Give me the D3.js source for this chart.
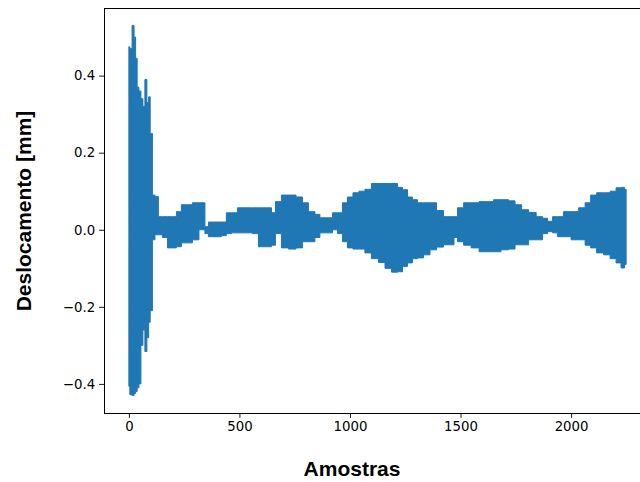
<!DOCTYPE html>
<html>
<head>
<meta charset="utf-8">
<script src="https://cdn.jsdelivr.net/npm/d3@7"></script>
<style>
  html, body { margin: 0; padding: 0; background: #fff; }
  svg { display: block; }
</style>
</head>
<body>
<svg id="chart" width="640" height="482"></svg>
<script>
// Envelope of the displacement signal (sample index, max and min)
const samples = [0, 9, 20, 27, 34, 41, 50, 59, 68, 77, 86, 93, 100, 104,
  109, 127, 140, 163, 186, 208, 222, 253, 276, 299, 335, 353, 367, 403, 434, 448, 480, 502, 548, 570, 602, 638,
  652, 674, 706, 738, 774, 796, 828, 855, 873, 910, 932, 955, 977, 1000, 1027, 1054, 1081, 1113, 1145, 1172,
  1204, 1226, 1249, 1271, 1294, 1317, 1348, 1376, 1407, 1439, 1466, 1475, 1498, 1530, 1566, 1602, 1634, 1665,
  1701, 1733, 1760, 1792, 1824, 1860, 1882, 1905, 1928, 1950, 1982, 2018, 2050, 2077, 2100, 2131, 2163, 2190,
  2217, 2235, 2249];
const upper = [0.475, 0.47, 0.53, 0.50, 0.445, 0.37, 0.36, 0.34, 0.32, 0.39, 0.33, 0.345, 0.25, 0.25,
  0.09, 0.086, 0.034, 0.034, 0.034, 0.034, 0.047, 0.065, 0.065, 0.07, 0.07, 0.008, 0.02, 0.02, 0.02, 0.044, 0.044, 0.057, 0.057, 0.057, 0.057, 0.057,
  0.044, 0.073, 0.09, 0.09, 0.085, 0.07, 0.047, 0.04, 0.031, 0.031, 0.044, 0.044, 0.07, 0.085, 0.096, 0.10, 0.105, 0.12, 0.12, 0.12,
  0.12, 0.11, 0.104, 0.085, 0.078, 0.07, 0.07, 0.07, 0.05, 0.034, 0.034, 0.034, 0.057, 0.07, 0.07, 0.073, 0.073, 0.078,
  0.078, 0.075, 0.065, 0.052, 0.045, 0.034, 0.03, 0.022, 0.034, 0.034, 0.047, 0.047, 0.057, 0.07, 0.09, 0.096, 0.096, 0.10,
  0.109, 0.11, 0.105];
const lower = [-0.406, -0.428, -0.43, -0.425, -0.42, -0.41, -0.40, -0.30, -0.26, -0.316, -0.28, -0.24, -0.21, -0.21,
  -0.026, -0.013, -0.013, -0.02, -0.047, -0.047, -0.044, -0.034, -0.034, -0.026, 0.0, -0.01, -0.018, -0.018, -0.015, -0.01, -0.008, -0.008, -0.008, -0.01, -0.044, -0.044,
  -0.04, -0.01, -0.047, -0.05, -0.047, -0.031, -0.031, -0.02, -0.008, -0.008, 0.0, -0.01, -0.031, -0.047, -0.05, -0.05, -0.06, -0.075, -0.085, -0.10,
  -0.11, -0.109, -0.095, -0.086, -0.075, -0.073, -0.065, -0.052, -0.045, -0.039, -0.039, -0.02, -0.031, -0.04, -0.047, -0.057, -0.057, -0.057,
  -0.052, -0.05, -0.039, -0.039, -0.026, -0.026, -0.01, -0.005, -0.008, -0.018, -0.018, -0.026, -0.026, -0.04, -0.047, -0.06, -0.065, -0.075,
  -0.086, -0.099, -0.09];
const xTicks = [0, 500, 1000, 1500, 2000];
const yTicks = [-0.4, -0.2, 0.0, 0.2, 0.4];
const xLabel = "Amostras";
const yLabel = "Deslocamento [mm]";

(function () {
  const svg = d3.select("#chart");
  const mLeft = 104, mRight = 651, mTop = 8, mBottom = 413;

  const x = d3.scaleLinear().domain([-112.45, 2361.45]).range([mLeft, mRight]);
  const y = d3.scaleLinear().domain([-0.4755, 0.5755]).range([mBottom, mTop]);

  const data = samples.map((s, i) => ({ s, hi: upper[i], lo: lower[i] }));

  svg.append("defs").append("clipPath").attr("id", "clip")
    .append("rect").attr("x", mLeft).attr("y", mTop).attr("width", mRight - mLeft).attr("height", mBottom - mTop);

  const area = d3.area()
    .x(d => x(d.s))
    .y0(d => y(d.lo))
    .y1(d => y(d.hi))
    .curve(d3.curveStep);

  svg.append("g").attr("clip-path", "url(#clip)")
    .append("path")
    .datum(data)
    .attr("d", area)
    .attr("fill", "#1f77b4")
    .attr("stroke", "#1f77b4")
    .attr("stroke-width", 1)
    .attr("stroke-linejoin", "round");

  const fmtY = d => d3.format(".1f")(d).replace("-", "\u2212");

  const xAxis = svg.append("g").attr("transform", `translate(0,${mBottom})`)
    .call(d3.axisBottom(x).tickValues(xTicks).tickSize(4.9).tickPadding(4).tickFormat(d3.format("d")));
  const yAxis = svg.append("g").attr("transform", `translate(${mLeft},0)`)
    .call(d3.axisLeft(y).tickValues(yTicks).tickSize(4.9).tickPadding(4).tickFormat(fmtY));

  [xAxis, yAxis].forEach(g => {
    g.select(".domain").remove();
    g.selectAll("line").attr("stroke", "#000").attr("stroke-width", 0.9);
    g.selectAll("text").attr("font-family", "DejaVu Sans").attr("font-size", 13.3).attr("fill", "#000");
  });

  svg.append("rect")
    .attr("x", mLeft + 0.5).attr("y", mTop + 0.5)
    .attr("width", mRight - mLeft).attr("height", mBottom - mTop)
    .attr("fill", "none").attr("stroke", "#000").attr("stroke-width", 1);

  svg.append("text")
    .attr("x", 352).attr("y", 476)
    .attr("text-anchor", "middle")
    .attr("font-family", "Liberation Sans, Arial, sans-serif")
    .attr("font-weight", "bold").attr("font-size", 21)
    .text(xLabel);

  svg.append("text")
    .attr("transform", "translate(31,211) rotate(-90)")
    .attr("text-anchor", "middle")
    .attr("font-family", "Liberation Sans, Arial, sans-serif")
    .attr("font-weight", "bold").attr("font-size", 21)
    .text(yLabel);
})();
</script>
</body>
</html>
